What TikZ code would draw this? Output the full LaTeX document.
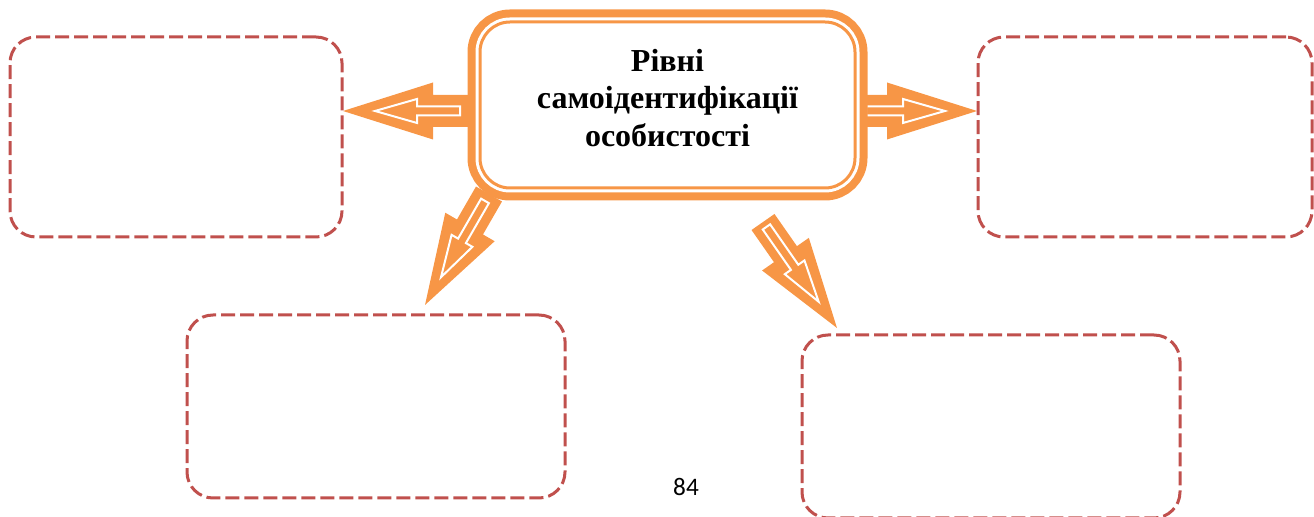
\documentclass[tikz,border=0pt]{standalone}
\usepackage{fontspec}
\setmainfont{Liberation Serif}
\newfontfamily\pagefont{Carlito}
\usetikzlibrary{calc,backgrounds}
\definecolor{boxorange}{HTML}{F79646}
\definecolor{slotred}{HTML}{C0504D}
% #1 halbe Schaftbreite, #2 Start, #3 Spitze, #4 Abstand des inneren Pfeils.
\newcommand{\blockarrow}[4][16]{%
    \path let \p1=(#2), \p2=(#3),
        \n1={atan2(\y2-\y1,\x2-\x1)},
        \n2={veclen(\x2-\x1,\y2-\y1)} in
        \pgfextra{\xdef\arrang{\n1}\xdef\arrlen{\n2}};
    \begin{scope}[shift={(#2)}, rotate=\arrang]
        \fill[boxorange] (0,-#1) -- ({\arrlen-45},-#1) -- ({\arrlen-45},-28.5)
            -- (\arrlen,0) -- ({\arrlen-45},28.5) -- ({\arrlen-45},#1) -- (0,#1) -- cycle;
        \filldraw[fill=boxorange, draw=white, line width=1pt]
            (#4,-4.5) -- ({\arrlen-37},-4.5) -- ({\arrlen-37},-12) -- ({\arrlen-16},0)
            -- ({\arrlen-37},12) -- ({\arrlen-37},4.5) -- (#4,4.5) -- cycle;
    \end{scope}}

\begin{document}
\begin{tikzpicture}[x=0.5pt, y=-0.5pt, outer sep=0pt,
    slot/.style={draw=slotred, line width=1.5pt, dash pattern=on 7pt off 2.5pt, rounded corners=13pt},
    frame/.style={fill=white, draw=boxorange, line width=1.5pt, rounded corners=15pt,
        preaction={draw=boxorange, line width=12.5pt},
        preaction={draw=white, line width=4.5pt}}]
    \useasboundingbox (0,0) rectangle (1314,517);

    % Kästen.
    \foreach \name/\x/\y/\w/\h in {lt/176/137/166/100, rt/1145/137/167/100,
        lb/376/406.5/189/91.5, rb/991/426.5/189/91.5}
    {
        \node[slot, minimum width=\w pt, minimum height=\h pt] (\name) at (\x,\y) {};
    }

    % Mitte.
    \node[frame, minimum width=187.5pt, minimum height=83pt] (frame) at (667.5,105) {};
    \node[font=\bfseries\fontsize{16}{18.75}\selectfont, align=center] (title) at (667.5,98)
        {Рівні\\самоідентифікації\\особистості};

    % Pfeile.
    \coordinate (a1) at ([shift={(-5,6)}]frame.west);
    \coordinate (t1) at ([shift={(1,-26)}]lt.east);
    \coordinate (a2) at ([shift={(7,6)}]frame.east);
    \coordinate (t2) at ([shift={(-1,-26)}]rt.west);
    \coordinate (a3) at ([shift={(9,6)}]frame.south west);
    \coordinate (t3) at ([shift={(49,-10)}]lb.north);
    \coordinate (a4) at ([shift={(95.5,34)}]frame.south);
    \coordinate (t4) at ([shift={(-154,-7)}]rb.north);
    \begin{scope}[on background layer]
        \blockarrow{a1}{t1}{15}
        \blockarrow{a2}{t2}{4}
        \blockarrow[15]{a3}{t3}{8}
        \blockarrow[14]{a4}{t4}{6}
    \end{scope}

    % Seitenzahl.
    \node[font=\pagefont\fontsize{12.6}{15}\selectfont] (page) at (686,487) {84};
\end{tikzpicture}
\end{document}
